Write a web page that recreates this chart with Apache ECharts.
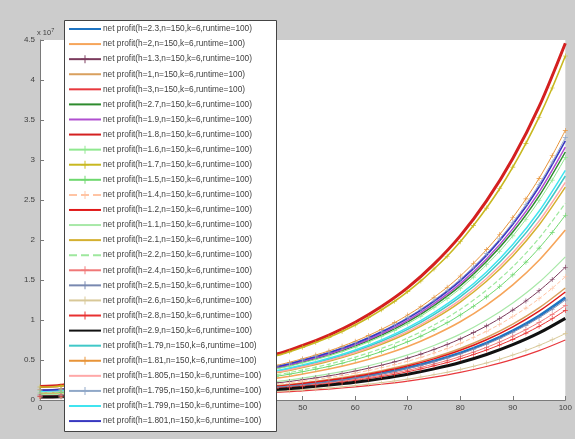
<!DOCTYPE html>
<html>
<head>
<meta charset="utf-8">
<script src="https://cdn.jsdelivr.net/npm/echarts@6/dist/echarts.min.js"></script>
<style>
html,body{margin:0;padding:0;background:#cccccc;}
#chart{width:575px;height:439px;}
</style>
</head>
<body>
<div id="chart"></div>
<script>
// ---- data (values in units of 10^7) ----
const xs = [0, 4, 45, 50, 55, 60, 65, 70, 75, 80, 85, 90, 95, 100];
const xsFine = [0, 4, 45, 47.5, 50, 52.5, 55, 57.5, 60, 62.5, 65, 67.5, 70, 72.5, 75, 77.5, 80, 82.5, 85, 87.5, 90, 92.5, 95, 97.5, 100];
const xTickLabels = ['0','10','20','30','40','50','60','70','80','90','100'];
const yTickLabels = ['0','0.5','1','1.5','2','2.5','3','3.5','4','4.5'];
const nVal = 150, kVal = 6, runtimeVal = 100;
const hLabels = ['2.3','2','1.3','1','3','2.7','1.9','1.8','1.6','1.7','1.5','1.4','1.2','1.1','2.1','2.2','2.4','2.5','2.6','2.8','2.9','1.79','1.81','1.805','1.795','1.799','1.801'];

// plain-line series, sampled at xs
const p_2_3   = [0.049,0.052,0.165,0.196,0.233,0.279,0.335,0.403,0.488,0.589,0.714,0.867,1.052,1.28];
const p_2     = [0.081,0.087,0.274,0.325,0.387,0.463,0.557,0.669,0.810,0.978,1.186,1.439,1.747,2.125];
const p_1     = [0.053,0.057,0.181,0.214,0.255,0.305,0.367,0.441,0.533,0.644,0.781,0.948,1.151,1.40];
const p_3     = [0.029,0.031,0.097,0.115,0.137,0.164,0.197,0.236,0.286,0.345,0.419,0.508,0.617,0.75];
const p_2_7   = [0.118,0.127,0.400,0.474,0.564,0.676,0.812,0.977,1.181,1.426,1.730,2.099,2.548,3.10];
const p_1_9   = [0.120,0.130,0.408,0.483,0.575,0.689,0.828,0.995,1.204,1.454,1.763,2.139,2.598,3.16];
const p_1_8   = [0.169,0.183,0.575,0.682,0.812,0.972,1.169,1.405,1.699,2.052,2.489,3.019,3.666,4.46];
const p_1_2   = [0.051,0.055,0.174,0.207,0.246,0.294,0.354,0.425,0.514,0.621,0.753,0.914,1.110,1.35];
const p_1_1   = [0.068,0.073,0.231,0.274,0.326,0.390,0.469,0.564,0.682,0.823,0.999,1.212,1.471,1.79];
const p_2_1   = [0.101,0.109,0.343,0.407,0.484,0.580,0.697,0.838,1.013,1.224,1.484,1.801,2.187,2.66];
const p_2_2   = [0.093,0.101,0.317,0.376,0.448,0.536,0.645,0.775,0.937,1.132,1.373,1.665,2.022,2.46];
const p_2_9   = [0.039,0.042,0.132,0.156,0.186,0.222,0.267,0.321,0.389,0.469,0.569,0.691,0.838,1.02];
const p_1_79  = [0.106,0.115,0.361,0.428,0.510,0.610,0.734,0.882,1.067,1.288,1.562,1.896,2.302,2.80];
const p_1_805 = [0.103,0.112,0.351,0.416,0.495,0.593,0.713,0.857,1.036,1.251,1.518,1.841,2.236,2.72];
const p_1_799 = [0.109,0.118,0.370,0.439,0.522,0.626,0.752,0.904,1.093,1.320,1.601,1.943,2.359,2.87];
const p_1_801 = [0.123,0.133,0.418,0.496,0.590,0.706,0.849,1.021,1.234,1.490,1.808,2.193,2.663,3.24];

// marker series, sampled at xsFine
const p_1_3   = [0.063,0.068,0.214,0.232,0.254,0.277,0.302,0.330,0.362,0.397,0.435,0.476,0.523,0.574,0.632,0.694,0.764,0.842,0.926,1.019,1.124,1.238,1.365,1.506,1.66];
const p_1_6   = [0.115,0.124,0.391,0.424,0.464,0.506,0.551,0.603,0.661,0.724,0.794,0.870,0.954,1.048,1.154,1.267,1.394,1.536,1.691,1.860,2.051,2.260,2.491,2.748,3.03];
const p_1_7   = [0.163,0.176,0.555,0.602,0.658,0.718,0.783,0.856,0.937,1.028,1.127,1.234,1.355,1.488,1.638,1.797,1.978,2.180,2.399,2.640,2.911,3.208,3.535,3.900,4.30];
const p_1_5   = [0.088,0.095,0.298,0.323,0.353,0.386,0.420,0.460,0.504,0.552,0.605,0.663,0.728,0.799,0.880,0.966,1.063,1.171,1.289,1.418,1.564,1.723,1.899,2.095,2.31];
const p_1_4   = [0.059,0.063,0.199,0.216,0.236,0.257,0.280,0.306,0.336,0.368,0.403,0.442,0.485,0.533,0.587,0.644,0.708,0.781,0.859,0.946,1.043,1.149,1.266,1.397,1.54];
const p_2_4   = [0.045,0.048,0.152,0.165,0.181,0.197,0.215,0.235,0.257,0.282,0.309,0.339,0.372,0.408,0.450,0.493,0.543,0.598,0.658,0.725,0.799,0.880,0.970,1.070,1.18];
const p_2_5   = [0.048,0.051,0.161,0.175,0.191,0.209,0.228,0.249,0.273,0.299,0.328,0.359,0.394,0.433,0.476,0.523,0.575,0.634,0.698,0.768,0.846,0.933,1.028,1.134,1.25];
const p_2_6   = [0.032,0.034,0.107,0.116,0.127,0.139,0.151,0.165,0.181,0.198,0.217,0.238,0.261,0.287,0.316,0.347,0.382,0.421,0.463,0.510,0.562,0.619,0.682,0.753,0.83];
const p_2_8   = [0.043,0.046,0.144,0.157,0.171,0.187,0.204,0.223,0.244,0.268,0.293,0.321,0.353,0.388,0.427,0.468,0.515,0.568,0.625,0.688,0.758,0.836,0.921,1.016,1.12];
const p_1_81  = [0.128,0.138,0.435,0.472,0.516,0.563,0.613,0.671,0.735,0.805,0.883,0.967,1.062,1.166,1.284,1.409,1.550,1.709,1.880,2.069,2.281,2.514,2.770,3.057,3.37];
const p_1_795 = [0.125,0.134,0.423,0.459,0.502,0.548,0.597,0.653,0.715,0.784,0.859,0.941,1.033,1.135,1.250,1.371,1.509,1.663,1.830,2.014,2.221,2.447,2.696,2.975,3.28];

const seriesValues = [p_2_3,p_2,p_1_3,p_1,p_3,p_2_7,p_1_9,p_1_8,p_1_6,p_1_7,p_1_5,p_1_4,p_1_2,p_1_1,p_2_1,p_2_2,p_2_4,p_2_5,p_2_6,p_2_8,p_2_9,p_1_79,p_1_81,p_1_805,p_1_795,p_1_799,p_1_801];

// ---- styles ----
const styles = [
  {c:'#1f74c2', w:2.6},
  {c:'#f6a55a', w:1.6},
  {c:'#7a3a5c', w:1, m:true},
  {c:'#d9a05e', w:1.5},
  {c:'#e8383d', w:1.2},
  {c:'#2e8b2e', w:1.5},
  {c:'#b04fd0', w:1.5},
  {c:'#d42020', w:3},
  {c:'#8fe88f', w:1, m:true},
  {c:'#c8b820', w:1.6, m:true},
  {c:'#6ed86e', w:1, m:true},
  {c:'#ffc4a4', w:1, m:true, d:'dashed'},
  {c:'#e01818', w:1.5},
  {c:'#a8e8a8', w:1.2},
  {c:'#d4b030', w:1.5},
  {c:'#9ee89e', w:1.2, d:'dashed'},
  {c:'#f07878', w:1, m:true},
  {c:'#7888b0', w:1, m:true},
  {c:'#d8c898', w:1, m:true},
  {c:'#e83030', w:1, m:true},
  {c:'#111111', w:3},
  {c:'#40c8c8', w:1.5},
  {c:'#e89438', w:1, m:true},
  {c:'#ffa8a8', w:1.5},
  {c:'#90a8c8', w:1, m:true},
  {c:'#40e4f0', w:1.5},
  {c:'#3838c0', w:1.6}
];
const plus = 'path://M-0.12,-1H0.12V-0.12H1V0.12H0.12V1H-0.12V0.12H-1V-0.12H-0.12Z';
const FONT = '"Liberation Sans", Arial, sans-serif';

const names = hLabels.map(h => 'net profit(h=' + h + ',n=' + nVal + ',k=' + kVal + ',runtime=' + runtimeVal + ')');

const series = seriesValues.map((vals, i) => {
  const s = styles[i];
  const xArr = s.m ? xsFine : xs;
  return {
    name: names[i],
    type: 'line',
    smooth: 0.3,
    data: vals.map((v, j) => [xArr[j], v]),
    symbol: s.m ? plus : 'circle',
    symbolSize: s.m ? 5 : 1,
    showSymbol: !!s.m,
    lineStyle: {color: s.c, width: s.w, type: s.d || 'solid'},
    itemStyle: {color: s.m ? s.c : 'rgba(0,0,0,0)'},
    animation: false,
    silent: true,
    z: 2
  };
});

const chart = echarts.init(document.getElementById('chart'), null, {renderer: 'canvas'});
chart.setOption({
  backgroundColor: '#cccccc',
  animation: false,
  grid: {left: 40, top: 40, right: 7, bottom: 39, show: true, backgroundColor: '#ffffff', borderWidth: 0},
  xAxis: {
    type: 'value', min: 0, max: 100, interval: 10,
    axisLine: {show: true, lineStyle: {color: '#7a7a7a', width: 1}},
    axisTick: {show: true, inside: true, length: 4, lineStyle: {color: '#7a7a7a'}},
    splitLine: {show: false},
    axisLabel: {color: '#404040', fontFamily: FONT, fontSize: 8, margin: 4,
      formatter: (v) => xTickLabels[Math.round(v / 10)]}
  },
  yAxis: {
    type: 'value', min: 0, max: 4.5, interval: 0.5,
    axisLine: {show: true, lineStyle: {color: '#7a7a7a', width: 1}},
    axisTick: {show: true, inside: true, length: 4, lineStyle: {color: '#7a7a7a'}},
    splitLine: {show: false},
    axisLabel: {color: '#404040', fontFamily: FONT, fontSize: 8, margin: 5,
      formatter: (v) => yTickLabels[Math.round(v / 0.5)]}
  },
  legend: {
    show: true, orient: 'vertical', left: 68, top: 24, padding: 0,
    itemWidth: 32, itemHeight: 10, itemGap: 5.08,
    selectedMode: false, z: 10,
    textStyle: {color: '#404040', fontFamily: FONT, fontSize: 8.3, lineHeight: 10, padding: [0,0,0,-3]},
    data: names
  },
  graphic: [
    {type: 'rect', z: 5, silent: true, shape: {x: 64.5, y: 20.5, width: 212, height: 411},
      style: {fill: '#ffffff', stroke: '#444444', lineWidth: 1}},
    {type: 'text', z: 5, silent: true, left: 37, top: 27,
      style: {text: '{a|x 10}{b|7}', rich: {
        a: {fontFamily: FONT, fontSize: 7.5, fill: '#404040'},
        b: {fontFamily: FONT, fontSize: 5.5, fill: '#404040', verticalAlign: 'top', padding: [0,0,5,0]}
      }}}
  ],
  series: series
});
</script>
</body>
</html>
